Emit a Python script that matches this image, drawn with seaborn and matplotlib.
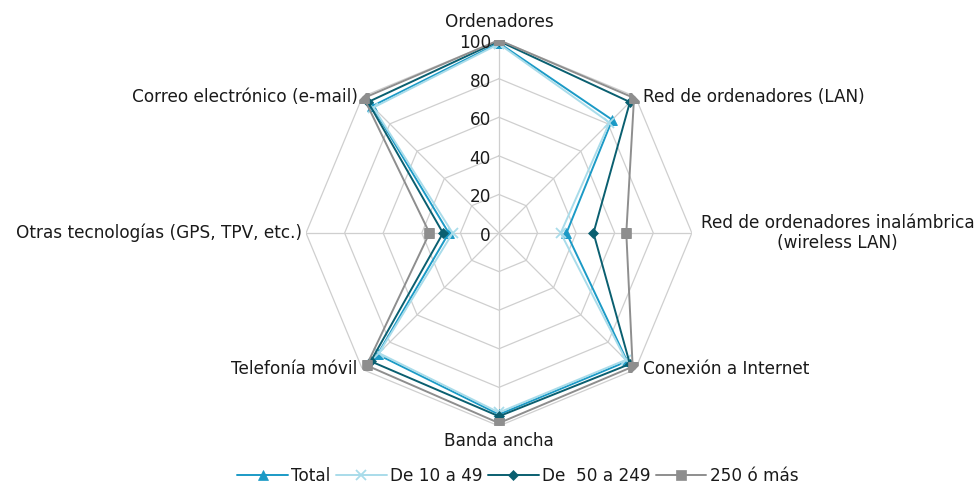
import numpy as np
import pandas as pd
import matplotlib
matplotlib.use('Agg')
import matplotlib.pyplot as plt
import seaborn as sns

# categorias (sentido horario desde arriba)
categorias = ['Ordenadores', 'Red de ordenadores (LAN)',
              'Red de ordenadores inalámbrica\n(wireless LAN)', 'Conexión a Internet',
              'Banda ancha', 'Telefonía móvil', 'Otras tecnologías (GPS, TPV, etc.)',
              'Correo electrónico (e-mail)']

total = [98.5, 83, 35, 94, 94, 89, 26, 93]
de_10_49 = [98, 81, 32, 93, 93, 88, 24, 92]
de_50_249 = [99.5, 96, 49, 96, 95, 94, 29, 96]
de_250 = [100, 99, 66, 98, 98.5, 97, 36, 99]

series = ['Total', 'De 10 a 49', 'De  50 a 249', '250 ó más']
valores = [total, de_10_49, de_50_249, de_250]
colores = ['#1b9ac6', '#a9dcea', '#0a5f70', '#8e8e8e']
marcadores = ['^', 'x', 'D', 's']
tam_marc = [7, 7, 5, 6.5]

ticks = [0, 20, 40, 60, 80, 100]

sns.set_style('white')
plt.rcParams['font.family'] = ['DejaVu Sans']
fs = 12.2
txt_color = '#1a1a1a'

n = len(categorias)
angulos = np.linspace(0, 2 * np.pi, n, endpoint=False)
ang_cerr = np.append(angulos, 2 * np.pi)

fig = plt.figure(figsize=(9.77, 4.86), dpi=100)
ax = fig.add_axes([0.3132, 0.1235, 0.395, 0.794], projection='polar')
ax.set_theta_zero_location('N')
ax.set_theta_direction(-1)
ax.set_ylim(0, 100)
ax.grid(False)
ax.spines['polar'].set_visible(False)
ax.set_xticks([])
ax.set_yticks([])

# rejilla octogonal
for r in ticks[1:]:
    ax.plot(ang_cerr, [r] * (n + 1), color='#cfcfcf', lw=0.9, zorder=1)
for a in angulos:
    ax.plot([a, a], [0, 100], color='#cfcfcf', lw=0.9, zorder=1)

# series
for nom, vals, c, m, ms in zip(series, valores, colores, marcadores, tam_marc):
    df = pd.DataFrame({'ang': ang_cerr, 'val': vals + [vals[0]]})
    sns.lineplot(data=df, x='ang', y='val', ax=ax, sort=False, color=c, lw=1.4,
                 marker=m, markersize=ms, markeredgecolor=c,
                 markeredgewidth=1.3 if m == 'x' else 0.5, label=nom, zorder=3)
ax.set_xlabel('')
ax.set_ylabel('')

# etiquetas del eje radial
for r in ticks:
    ax.annotate(str(r), xy=(0, r), xytext=(-8, -3), textcoords='offset pixels',
                ha='right', va='center', fontsize=fs, color=txt_color)

# etiquetas de categorias
colocacion = [((0, 9), 'center', 'bottom'),
              ((8, 0), 'left', 'center'),
              ((9, 0), 'left', 'center'),
              ((8, 0), 'left', 'center'),
              ((0, -6), 'center', 'top'),
              ((-5, 0), 'right', 'center'),
              ((-4, 0), 'right', 'center'),
              ((-5, 0), 'right', 'center')]
for a, lab, (off, ha, va) in zip(angulos, categorias, colocacion):
    ax.annotate(lab, xy=(a, 100), xytext=off, textcoords='offset pixels',
                ha=ha, va=va, multialignment='center', fontsize=fs, color=txt_color,
                annotation_clip=False)

if ax.legend_:
    ax.legend_.remove()
handles, labels = ax.get_legend_handles_labels()
fig.legend(handles, labels, loc='center', bbox_to_anchor=(0.53, 0.02), ncol=4,
           frameon=False, fontsize=fs, handlelength=3, columnspacing=0.3,
           handletextpad=0.2, labelcolor=txt_color)

fig.savefig('out.png', dpi=100)
